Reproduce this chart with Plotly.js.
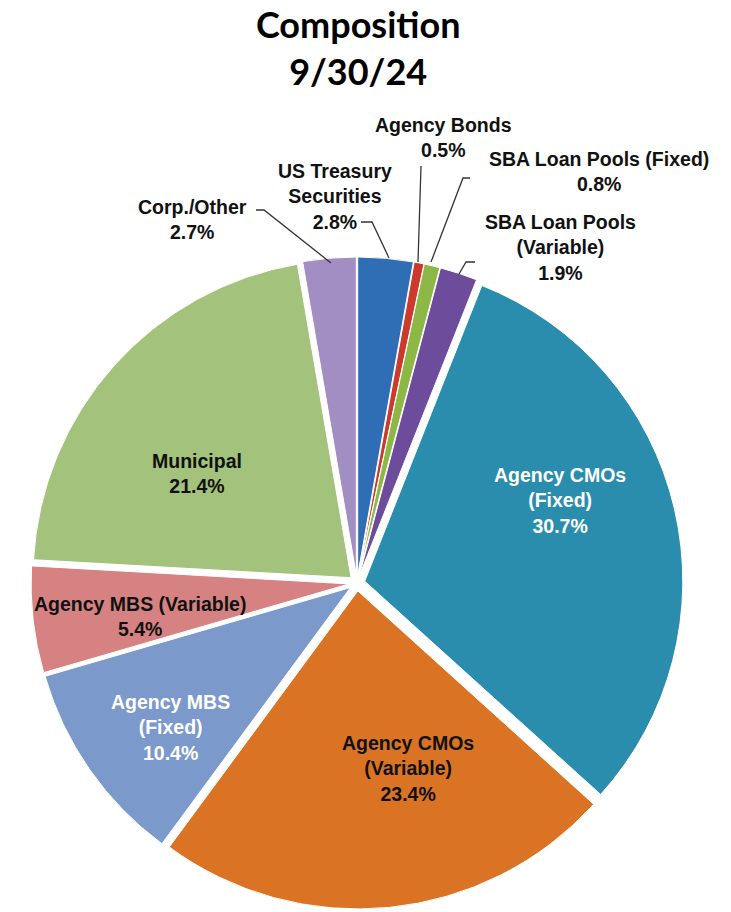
<!DOCTYPE html>
<html>
<head>
<meta charset="utf-8">
<script src="https://cdn.plot.ly/plotly-3.0.1.min.js"></script>
<style>html,body{margin:0;padding:0;background:#fff;}#chart{width:731px;height:912px;}</style>
</head>
<body>
<div id="chart"></div>
<script>
// ---- data ----
const categories = [
  "US Treasury Securities",
  "Agency Bonds",
  "SBA Loan Pools (Fixed)",
  "SBA Loan Pools (Variable)",
  "Agency CMOs (Fixed)",
  "Agency CMOs (Variable)",
  "Agency MBS (Fixed)",
  "Agency MBS (Variable)",
  "Municipal",
  "Corp./Other"
];
const values = [2.8, 0.5, 0.8, 1.9, 30.7, 23.4, 10.4, 5.4, 21.4, 2.7];
const labelLines = [
  ["US Treasury", "Securities"],
  ["Agency Bonds"],
  ["SBA Loan Pools (Fixed)"],
  ["SBA Loan Pools", "(Variable)"],
  ["Agency CMOs", "(Fixed)"],
  ["Agency CMOs", "(Variable)"],
  ["Agency MBS", "(Fixed)"],
  ["Agency MBS (Variable)"],
  ["Municipal"],
  ["Corp./Other"]
];
const titleLines = ["Composition", "9/30/24"];

// ---- styling ----
const colors = ["#2F6DB5", "#CC3A2E", "#8DB845", "#6E4C9C", "#2A8DAD",
                "#DA7424", "#7B99CB", "#D68282", "#A3C27C", "#A28EC2"];
const textColors = ["#111", "#111", "#111", "#111", "#ffffff",
                    "#111", "#ffffff", "#111", "#111", "#111"];
// label anchor positions in pixels (text centres)
const labelPos = [
  [335, 196], [443, 138], [599, 171], [560, 248], [560, 500],
  [408, 768], [170, 727], [140, 616], [197, 473], [192, 220]
];
// leader lines in pixels (for outside labels)
const leaders = [
  [[361, 222], [372, 222], [389, 258]],
  [[421, 166], [418, 262]],
  [[470, 178], [463, 178], [431, 262]],
  [[475, 262], [466, 262], [459, 274]],
  null, null, null, null, null,
  [[256, 210], [264, 210], [331, 263]]
];

const W = 731, H = 912;
const px = x => x / W;
const py = y => 1 - y / H;
const FONT = "'Liberation Sans', Arial, sans-serif";

const annotations = categories.map((c, i) => ({
  xref: 'paper', yref: 'paper',
  x: px(labelPos[i][0]), y: py(labelPos[i][1]),
  xanchor: 'center', yanchor: 'middle',
  showarrow: false, align: 'center',
  text: '<b>' + labelLines[i].concat([values[i].toFixed(1) + '%']).join('<br>') + '</b>',
  font: {family: FONT, size: 19.5, color: textColors[i]}
}));

const shapes = [];
leaders.forEach(pts => {
  if (!pts) return;
  const path = pts.map((p, k) => (k ? 'L' : 'M') + px(p[0]) + ',' + py(p[1])).join(' ');
  shapes.push({type: 'path', xref: 'paper', yref: 'paper', path: path,
               line: {color: '#333', width: 1.3}});
});

const cx = 357, cy = 583, R = 326;
const trace = {
  type: 'pie',
  labels: categories,
  values: values,
  sort: false,
  direction: 'clockwise',
  rotation: 0,
  pull: values.map(() => 0.025),
  textinfo: 'none',
  hoverinfo: 'none',
  showlegend: false,
  marker: {colors: colors, line: {color: '#ffffff', width: 1}},
  domain: {x: [px(cx - R), px(cx + R)], y: [py(cy + R), py(cy - R)]}
};

const layout = {
  width: W, height: H,
  margin: {l: 0, r: 0, t: 0, b: 0},
  paper_bgcolor: '#ffffff',
  title: {
    text: '<b>' + titleLines.join('<br>') + '</b>',
    x: 0.49, xanchor: 'center', y: 1 - 38 / H, yanchor: 'middle',
    font: {family: "Lato, 'Open Sans', sans-serif", size: 36, color: '#000'}
  },
  annotations: annotations,
  shapes: shapes
};

Plotly.newPlot('chart', [trace], layout, {displayModeBar: false, staticPlot: true});
</script>
</body>
</html>
